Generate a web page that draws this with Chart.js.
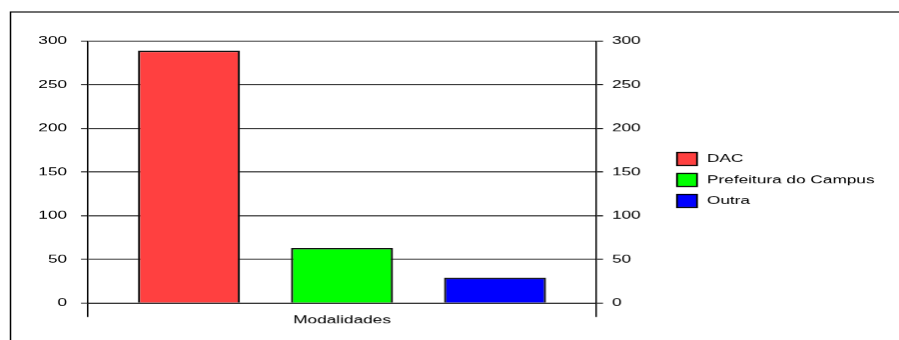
<!DOCTYPE html>
<html>
<head>
<meta charset="utf-8">
<script src="https://cdn.jsdelivr.net/npm/chart.js@4"></script>
<style>
html,body{margin:0;padding:0;background:#fff;}
#wrap{width:899px;height:340px;overflow:hidden;}
#c{display:block;width:899px !important;height:340px !important;}
</style>
</head>
<body>
<div id="wrap"><canvas id="c" width="600" height="340"></canvas></div>
<script>
// ---- data ----
const categories = ['Modalidades'];
const seriesNames = ['DAC', 'Prefeitura do Campus', 'Outra'];
const dacValues = [289];
const prefeituraValues = [63];
const outraValues = [29];
const seriesColors = ['#ff4040', '#00ff00', '#0000ff'];
const yMin = 0, yMax = 300, yStep = 50;

// ---- layout (logical px; canvas is stretched horizontally by SX) ----
const LOGICAL_W = 600;
const SX = 899 / LOGICAL_W;
const px = v => v / SX;           // display x -> logical x
const FONT = {family: '"Liberation Sans", Arial, sans-serif', size: 11.5};

const framePlugin = {
  id: 'frame',
  beforeDraw(chart) {
    const ctx = chart.ctx;
    ctx.save();
    ctx.fillStyle = '#fff';
    ctx.fillRect(0, 0, chart.width, chart.height);
    ctx.strokeStyle = '#000';
    ctx.lineWidth = 1;
    ctx.beginPath();
    ctx.moveTo(px(10.5), chart.height);
    ctx.lineTo(px(10.5), 12);
    ctx.lineTo(chart.width, 12);
    ctx.stroke();
    ctx.restore();
  }
};

const legendPlugin = {
  id: 'sideLegend',
  afterDraw(chart) {
    const ctx = chart.ctx;
    ctx.save();
    ctx.font = FONT.size + 'px ' + FONT.family;
    ctx.textBaseline = 'middle';
    ctx.textAlign = 'left';
    chart.data.datasets.forEach((ds, i) => {
      const top = 152 + 21 * i;
      const x = px(677);
      const w = px(697) - px(677);
      ctx.fillStyle = ds.backgroundColor;
      ctx.fillRect(x, top, w, 13);
      ctx.strokeStyle = '#000';
      ctx.lineWidth = 1.2;
      ctx.strokeRect(x, top + 0.5, w, 13);
      ctx.fillStyle = '#000';
      ctx.fillText(ds.label, px(707), top + 7);
    });
    ctx.restore();
  }
};

const seriesValues = [dacValues, prefeituraValues, outraValues];

new Chart(document.getElementById('c'), {
  type: 'bar',
  data: {
    labels: categories,
    datasets: seriesNames.map((name, i) => ({
      label: name,
      data: seriesValues[i],
      backgroundColor: seriesColors[i],
      borderColor: '#111',
      borderWidth: 1.5,
      categoryPercentage: 0.9035,
      barPercentage: 0.667,
      yAxisID: 'y'
    }))
  },
  options: {
    responsive: false,
    animation: false,
    devicePixelRatio: 1.5,
    layout: {padding: {top: 41, left: 0, right: 0, bottom: 0}},
    plugins: {legend: {display: false}, tooltip: {enabled: false}},
    scales: {
      x: {
        offset: true,
        grid: {display: true, drawOnChartArea: false, drawTicks: true, tickLength: 14, color: '#000', offset: true},
        border: {display: true, color: '#000', width: 1},
        ticks: {color: '#000', font: FONT, padding: -4},
        afterFit(s) { s.height = 37; }
      },
      y: {
        position: 'left',
        min: yMin, max: yMax,
        grid: {color: '#222', tickLength: px(7), drawTicks: true},
        border: {display: true, color: '#000', width: 1},
        ticks: {stepSize: yStep, color: '#000', font: FONT, padding: px(14)},
        afterFit(s) { s.width = px(88); }
      },
      y2: {
        position: 'right',
        min: yMin, max: yMax,
        grid: {drawOnChartArea: false, tickLength: px(7), drawTicks: true, color: '#000'},
        border: {display: true, color: '#000', width: 1},
        ticks: {stepSize: yStep, color: '#000', font: FONT, padding: px(9)},
        afterFit(s) { s.width = LOGICAL_W - px(596); }
      }
    }
  },
  plugins: [framePlugin, legendPlugin]
});
</script>
</body>
</html>
